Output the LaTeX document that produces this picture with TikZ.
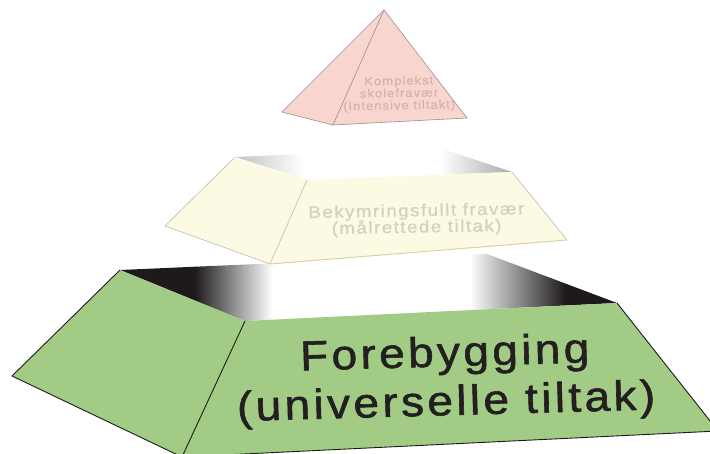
\documentclass[tikz,border=0pt]{standalone}
\usepackage{fontspec}
\setmainfont{Liberation Sans}
\definecolor{basegreen}{HTML}{A2CC85}
\definecolor{baseedge}{HTML}{1E1A1B}
\definecolor{basetext}{HTML}{231F20}
\definecolor{openblack}{HTML}{1E1A1B}
\definecolor{midfill}{HTML}{FDFAE3}
\definecolor{midedge}{HTML}{BDBAB0}
\definecolor{midfoot}{HTML}{DAD39E}
\definecolor{midtext}{HTML}{D4D1BE}
\definecolor{midgrayL}{HTML}{C2C2C2}
\definecolor{midgrayR}{HTML}{A9A9A9}
\definecolor{topfill}{HTML}{F8D6CF}
\definecolor{topedge}{HTML}{9C8F8C}
\definecolor{toptext}{HTML}{DBB2AA}

% inside of the lower tier: dark at both ends, light in the middle
\pgfdeclarehorizontalshading{baseopening}{100bp}{color(0bp)=(openblack); color(32.5bp)=(openblack); color(40.3bp)=(white); color(60.2bp)=(white); color(69.8bp)=(openblack); color(100bp)=(openblack)}
% inside of the middle tier: soft grey at both ends
\pgfdeclarehorizontalshading{midopening}{100bp}{color(0bp)=(midgrayL); color(25bp)=(midgrayL); color(37.3bp)=(white); color(62bp)=(white); color(75bp)=(midgrayR); color(100bp)=(midgrayR)}

% wide, tracked, slightly heavy lettering with tight line spacing
% #1 size, #2 line distance, #3 tracking, #4 extra weight
\newcommand\tierfont[4]{\fontsize{#1}{#2}\selectfont\addfontfeature{FakeStretch=1.1,LetterSpace=#3,FakeBold=#4}\lineskiplimit=-100pt\relax}

\begin{document}
\begin{tikzpicture}[x=1bp,y=-1bp,line join=round,
  basefill/.style={fill=basegreen},
  baseline/.style={draw=baseedge,line width=0.9bp},
  midface/.style={fill=midfill},
  midline/.style={draw=midedge,line width=0.6bp},
  topface/.style={fill=topfill},
  topline/.style={draw=topedge,line width=0.6bp},
  baselabel/.style={align=center,inner sep=0pt,text=basetext,rotate=1.6,
    font=\tierfont{42}{49}{8}{1.4}},
  midlabel/.style={align=center,inner sep=0pt,text=midtext,rotate=1,
    font=\tierfont{17}{16.5}{9}{1}},
  toplabel/.style={align=center,inner sep=0pt,text=toptext,rotate=1,
    font=\tierfont{12}{12.3}{8}{0.7}}]
\useasboundingbox (0,0) rectangle (710,454);

% ---- lower tier ----
\coordinate (b-bl) at (120,270);
\coordinate (b-br) at (487,254);
\coordinate (b-fl) at (245,321);
\coordinate (b-fr) at (617,303);
\coordinate (b-ol) at (12,376);
\coordinate (b-dl) at (182,457);
\coordinate (b-dr) at (718,431);

\shade[shading=baseopening] (b-bl) -- (b-br) -- (b-fr) -- (b-fl) -- cycle;
\fill[basefill] (b-bl) -- (b-fl) -- (b-dl) -- (b-ol) -- cycle;
\fill[basefill] (b-fl) -- (b-fr) -- (b-dr) -- (b-dl) -- cycle;
\draw[baseline] (b-bl) -- (b-ol) -- (b-dl) -- (b-dr) -- (b-fr);
\draw[baseline] (b-fl) -- (b-dl);

% ---- middle tier ----
\coordinate (m-bl) at (235,157);
\coordinate (m-br) at (440,148);
\coordinate (m-fl) at (307,180);
\coordinate (m-fr) at (512,172);
\coordinate (m-ol) at (165,226);
\coordinate (m-dl) at (270,264);
\coordinate (m-dr) at (567,240);

\shade[shading=midopening] (m-bl) -- (m-br) -- (m-fr) -- (m-fl) -- cycle;
\fill[midface] (m-bl) -- (m-fl) -- (m-dl) -- (m-ol) -- cycle;
\fill[midface] (m-fl) -- (m-fr) -- (m-dr) -- (m-dl) -- cycle;
\draw[midline] (m-bl) -- (m-ol) -- (m-dl);
\draw[midline] (m-fl) -- (m-dl);
\draw[midline] (m-fr) -- (m-dr);
\draw[draw=midfoot,line width=1bp] (m-dl) -- (m-dr);

% ---- top tier ----
\coordinate (t-apex) at (384,10);
\coordinate (t-l) at (282,112);
\coordinate (t-f) at (333,125);
\coordinate (t-r) at (467,118);

\fill[topface] (t-apex) -- (t-l) -- (t-f) -- (t-r) -- cycle;
\draw[topline] (t-apex) -- (t-l) -- (t-f) -- (t-r) -- cycle;
\draw[topline] (t-apex) -- (t-f);

% ---- labels ----
\node[baselabel] (base-label) at (445.5,380) {Forebygging\\(universelle tiltak)};
\node[midlabel] (mid-label) at (416.5,220) {Bekymringsfullt fravær\\(målrettede tiltak)};
\node[toplabel] (top-label) at (399,94) {Komplekst\\skolefravær\\(Intensive tiltakt)};
\end{tikzpicture}
\end{document}
